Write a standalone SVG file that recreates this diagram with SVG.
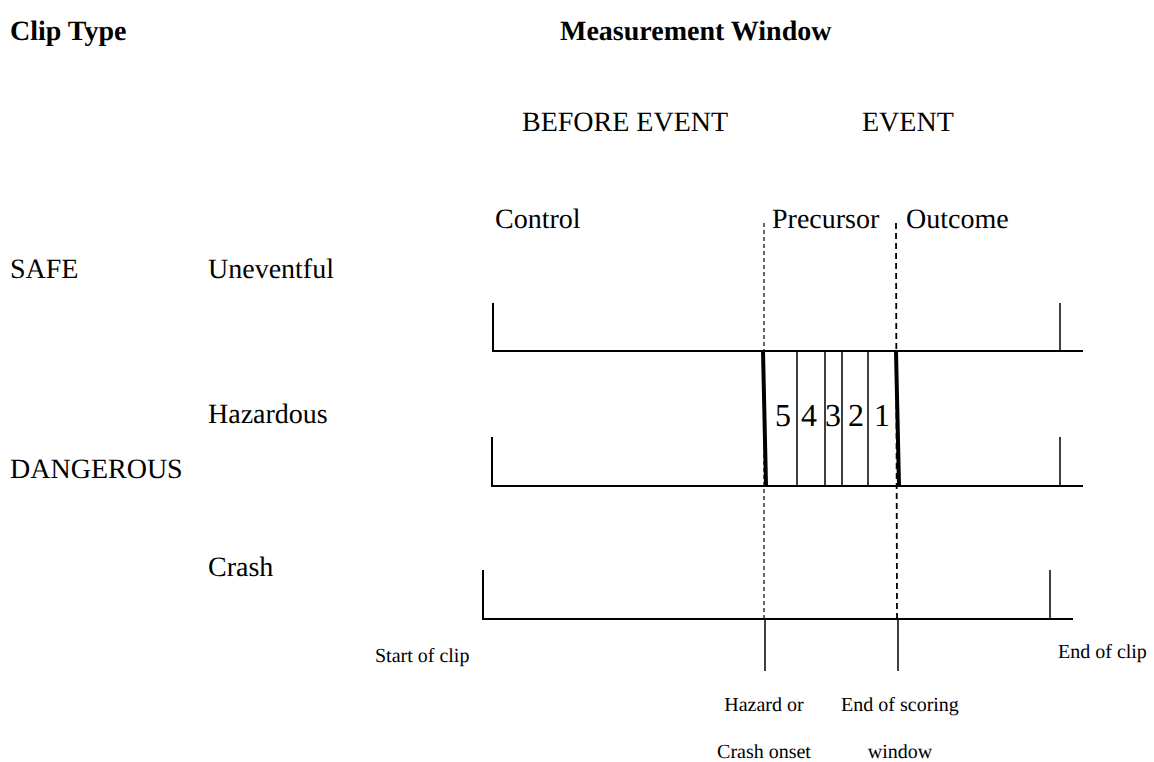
<svg xmlns="http://www.w3.org/2000/svg" width="1154" height="762" viewBox="0 0 1154 762">
<style>
text{font-family:"Liberation Serif","Times New Roman",Times,serif;fill:#000;text-rendering:geometricPrecision}
.h{font-size:28px;font-weight:bold}
.t{font-size:28px;font-weight:normal}
.s{font-size:20px}
.n{font-size:32px}
.ax{stroke:#000;stroke-width:2;fill:none}
.tk{stroke:#000;stroke-width:1.5;fill:none}
.th{stroke:#000;stroke-width:4;fill:none}
.d1{stroke:#000;stroke-width:1.2;stroke-dasharray:4 3;fill:none}
.d2{stroke:#000;stroke-width:1.8;stroke-dasharray:6 4;fill:none}
</style>
<rect width="1154" height="762" fill="#fff"/>
<g id="headers">
<text class="h" x="10" y="40">Clip Type</text>
<text class="h" x="560" y="40">Measurement Window</text>
<text class="t" x="522" y="131">BEFORE EVENT</text>
<text class="t" x="862" y="131">EVENT</text>
<text class="t" x="495" y="228">Control</text>
<text class="t" x="772" y="228">Precursor</text>
<text class="t" x="906" y="228">Outcome</text>
</g>
<g id="labels">
<text class="t" x="10" y="278">SAFE</text>
<text class="t" x="208" y="278">Uneventful</text>
<text class="t" x="208" y="423">Hazardous</text>
<text class="t" x="10" y="478">DANGEROUS</text>
<text class="t" x="208" y="576">Crash</text>
<text class="s" x="375" y="662">Start of clip</text>
<text class="s" x="1058" y="658">End of clip</text>
<text class="s" x="764" y="711" text-anchor="middle">Hazard or</text>
<text class="s" x="764" y="758" text-anchor="middle">Crash onset</text>
<text class="s" x="900" y="711" text-anchor="middle">End of scoring</text>
<text class="s" x="900" y="758" text-anchor="middle">window</text>
</g>
<g id="connectors">
<line class="d1" x1="764" y1="223" x2="764" y2="619"/>
<line class="d2" x1="896" y1="223" x2="897" y2="619"/>
<polyline class="ax" points="493,303 493,351 1083,351"/>
<line class="tk" x1="1060" y1="303" x2="1060" y2="351"/>
<polyline class="ax" points="492,437 492,486 1083,486"/>
<line class="tk" x1="1060" y1="437" x2="1060" y2="486"/>
<polyline class="ax" points="483,570 483,619 1073,619"/>
<line class="tk" x1="1050" y1="570" x2="1050" y2="619"/>
<line class="tk" x1="765" y1="619" x2="765" y2="671"/>
<line class="tk" x1="898" y1="619" x2="898" y2="671"/>
</g>
<g id="precursor-bins">
<line class="th" x1="763" y1="351" x2="766" y2="486"/>
<line class="th" x1="896" y1="351" x2="899" y2="486"/>
<line class="tk" x1="797" y1="351" x2="797" y2="486"/>
<line class="tk" x1="825" y1="351" x2="825" y2="486"/>
<line class="tk" x1="842" y1="351" x2="842" y2="486"/>
<line class="tk" x1="868" y1="351" x2="868" y2="486"/>
<text class="n" x="783" y="426" text-anchor="middle">5</text>
<text class="n" x="809" y="426" text-anchor="middle">4</text>
<text class="n" x="833" y="426" text-anchor="middle">3</text>
<text class="n" x="856" y="426" text-anchor="middle">2</text>
<text class="n" x="882" y="426" text-anchor="middle">1</text>
</g>
</svg>
